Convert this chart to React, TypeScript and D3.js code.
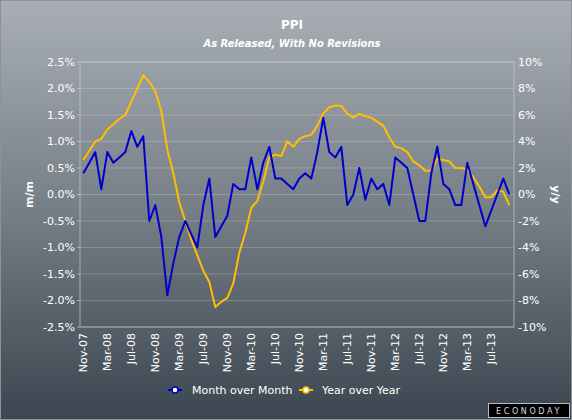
import React from "react";
import * as d3 from "d3";

const categories = [
  "Nov-07","Dec-07","Jan-08","Feb-08","Mar-08","Apr-08","May-08","Jun-08","Jul-08","Aug-08","Sep-08","Oct-08",
  "Nov-08","Dec-08","Jan-09","Feb-09","Mar-09","Apr-09","May-09","Jun-09","Jul-09","Aug-09","Sep-09","Oct-09",
  "Nov-09","Dec-09","Jan-10","Feb-10","Mar-10","Apr-10","May-10","Jun-10","Jul-10","Aug-10","Sep-10","Oct-10",
  "Nov-10","Dec-10","Jan-11","Feb-11","Mar-11","Apr-11","May-11","Jun-11","Jul-11","Aug-11","Sep-11","Oct-11",
  "Nov-11","Dec-11","Jan-12","Feb-12","Mar-12","Apr-12","May-12","Jun-12","Jul-12","Aug-12","Sep-12","Oct-12",
  "Nov-12","Dec-12","Jan-13","Feb-13","Mar-13","Apr-13","May-13","Jun-13","Jul-13","Aug-13","Sep-13","Oct-13",
];

const monthOverMonth = [
  0.4, 0.6, 0.8, 0.1, 0.8, 0.6, 0.7, 0.8, 1.2, 0.9, 1.1, -0.5,
  -0.2, -0.8, -1.9, -1.3, -0.8, -0.5, -0.75, -1.0, -0.2, 0.3, -0.8, -0.6,
  -0.4, 0.2, 0.1, 0.1, 0.7, 0.1, 0.6, 0.9, 0.3, 0.3, 0.2, 0.1,
  0.3, 0.4, 0.3, 0.8, 1.45, 0.8, 0.7, 0.9, -0.2, 0.0, 0.5, -0.1,
  0.3, 0.1, 0.2, -0.2, 0.7, 0.6, 0.5, 0.0, -0.5, -0.5, 0.4, 0.9,
  0.2, 0.1, -0.2, -0.2, 0.6, 0.2, -0.2, -0.6, -0.3, 0.0, 0.3, 0.0,
];

const yearOverYear = [
  2.6, 3.3, 4.0, 4.2, 4.9, 5.3, 5.7, 6.0, 7.0, 8.0, 9.0, 8.5,
  7.8, 6.3, 3.4, 1.6, -0.6, -2.0, -3.4, -4.6, -5.75, -6.6, -8.5, -8.1,
  -7.8, -6.7, -4.4, -2.9, -1.0, -0.5, 1.0, 2.8, 3.0, 2.9, 4.0, 3.6,
  4.2, 4.4, 4.5, 5.2, 6.1, 6.6, 6.7, 6.7, 6.1, 5.8, 6.1, 5.9,
  5.8, 5.5, 5.2, 4.3, 3.6, 3.5, 3.2, 2.5, 2.2, 1.8, 1.8, 2.7,
  2.6, 2.5, 2.0, 2.0, 1.9, 1.3, 0.6, -0.2, -0.2, 0.3, 0.2, -0.8,
];

const xTickLabels = [
  "Nov-07","Mar-08","Jul-08","Nov-08","Mar-09","Jul-09","Nov-09","Mar-10","Jul-10","Nov-10",
  "Mar-11","Jul-11","Nov-11","Mar-12","Jul-12","Nov-12","Mar-13","Jul-13",
];
const leftTicks = [-2.5, -2.0, -1.5, -1.0, -0.5, 0.0, 0.5, 1.0, 1.5, 2.0, 2.5];
const rightTicks = [-10, -8, -6, -4, -2, 0, 2, 4, 6, 8, 10];

const W = 572;
const H = 420;
const plotL = 80;
const plotR = 514;
const plotT = 62;
const plotB = 327;
const FONT = "'DejaVu Sans', Verdana, sans-serif";

export default function App() {
  const x = d3.scalePoint<string>().domain(categories).range([83.3, 509.3]);
  const yL = d3.scaleLinear().domain([-2.5, 2.5]).range([plotB, plotT]);
  const yR = d3.scaleLinear().domain([-10, 10]).range([plotB, plotT]);

  const lineL = d3.line<number>().x((_, i) => x(categories[i]) as number).y((d) => yL(d));
  const lineR = d3.line<number>().x((_, i) => x(categories[i]) as number).y((d) => yR(d));

  const midY = (plotT + plotB) / 2;

  return (
    <svg
      width={W}
      height={H}
      style={{ position: "absolute", left: 0, top: 0, display: "block" }}
      fontFamily={FONT}
    >
      <defs>
        <linearGradient id="bg" x1="0" y1="0" x2="0" y2="1">
          <stop offset="0%" stopColor="#a9afb5" />
          <stop offset="50%" stopColor="#767e86" />
          <stop offset="100%" stopColor="#3c4650" />
        </linearGradient>
      </defs>
      <rect x={0} y={0} width={W} height={H} fill="url(#bg)" />
      <rect x={0.5} y={0.5} width={W - 1} height={H - 1} fill="none" stroke="#8d9298" strokeWidth={1} />

      {/* title */}
      <text x={292} y={29} textAnchor="middle" fill="#ffffff" fontWeight="bold" fontSize={12}>
        PPI
      </text>
      <text x={292} y={47} textAnchor="middle" fill="#ffffff" fontWeight="bold" fontStyle="italic" fontSize={10}>
        As Released, With No Revisions
      </text>

      {/* gridlines */}
      {leftTicks.map((t) => (
        <line
          key={"g" + t}
          x1={plotL}
          x2={plotR}
          y1={yL(t)}
          y2={yL(t)}
          stroke="#ffffff"
          strokeOpacity={0.2}
          strokeWidth={1}
        />
      ))}
      {/* frame */}
      <rect
        x={plotL}
        y={plotT}
        width={plotR - plotL}
        height={plotB - plotT}
        fill="none"
        stroke="#c4c9ce"
        strokeOpacity={0.7}
        strokeWidth={1}
      />
      {/* left ticks */}
      {leftTicks.map((t) => (
        <g key={"l" + t}>
          <line x1={plotL - 3} x2={plotL} y1={yL(t)} y2={yL(t)} stroke="#c4c9ce" strokeOpacity={0.7} />
          <text x={plotL - 5} y={yL(t)} dy="0.35em" textAnchor="end" fill="#ffffff" fontSize={11}>
            {t.toFixed(1) + "%"}
          </text>
        </g>
      ))}
      {rightTicks.map((t) => (
        <text key={"r" + t} x={plotR + 4} y={yR(t)} dy="0.35em" textAnchor="start" fill="#ffffff" fontSize={11}>
          {t + "%"}
        </text>
      ))}
      {/* axis titles */}
      <text
        transform={`translate(29,${midY}) rotate(-90)`}
        textAnchor="middle"
        dy="0.35em"
        fill="#ffffff"
        fontWeight="bold"
        fontSize={11}
      >
        m/m
      </text>
      <text
        transform={`translate(556,${midY}) rotate(90)`}
        textAnchor="middle"
        dy="0.35em"
        fill="#ffffff"
        fontWeight="bold"
        fontSize={11}
      >
        y/y
      </text>
      {/* x labels */}
      {xTickLabels.map((c) => (
        <text
          key={"x" + c}
          transform={`translate(${x(c)},${plotB + 6}) rotate(-90)`}
          textAnchor="end"
          dy="0.35em"
          fill="#ffffff"
          fontSize={11}
        >
          {c}
        </text>
      ))}

      {/* series */}
      <path d={lineR(yearOverYear) || ""} fill="none" stroke="#ffbf00" strokeWidth={2} strokeLinejoin="round" />
      <path d={lineL(monthOverMonth) || ""} fill="none" stroke="#0000cc" strokeWidth={2} strokeLinejoin="round" />

      {/* legend */}
      <g transform="translate(175,390)">
        <line x1={-7} x2={7} y1={0} y2={0} stroke="#0000cc" strokeWidth={2} />
        <circle cx={0} cy={0} r={3} fill="#ffffff" stroke="#0000cc" strokeWidth={1.5} />
        <text x={17} y={0} dy="0.35em" fill="#ffffff" fontSize={11}>
          Month over Month
        </text>
      </g>
      <g transform="translate(306,390)">
        <line x1={-7} x2={7} y1={0} y2={0} stroke="#ffbf00" strokeWidth={2} />
        <circle cx={0} cy={0} r={3} fill="#ffffff" stroke="#ffbf00" strokeWidth={1.5} />
        <text x={16} y={0} dy="0.35em" fill="#ffffff" fontSize={11}>
          Year over Year
        </text>
      </g>

      {/* logo */}
      <rect x={488.5} y={403.5} width={81} height={14} fill="#000000" stroke="#b8bcc0" strokeWidth={1} />
      <text x={529} y={411} dy="0.35em" textAnchor="middle" fill="#d8d8d8" fontSize={8} letterSpacing={2.6}>
        ECONODAY
      </text>
    </svg>
  );
}
